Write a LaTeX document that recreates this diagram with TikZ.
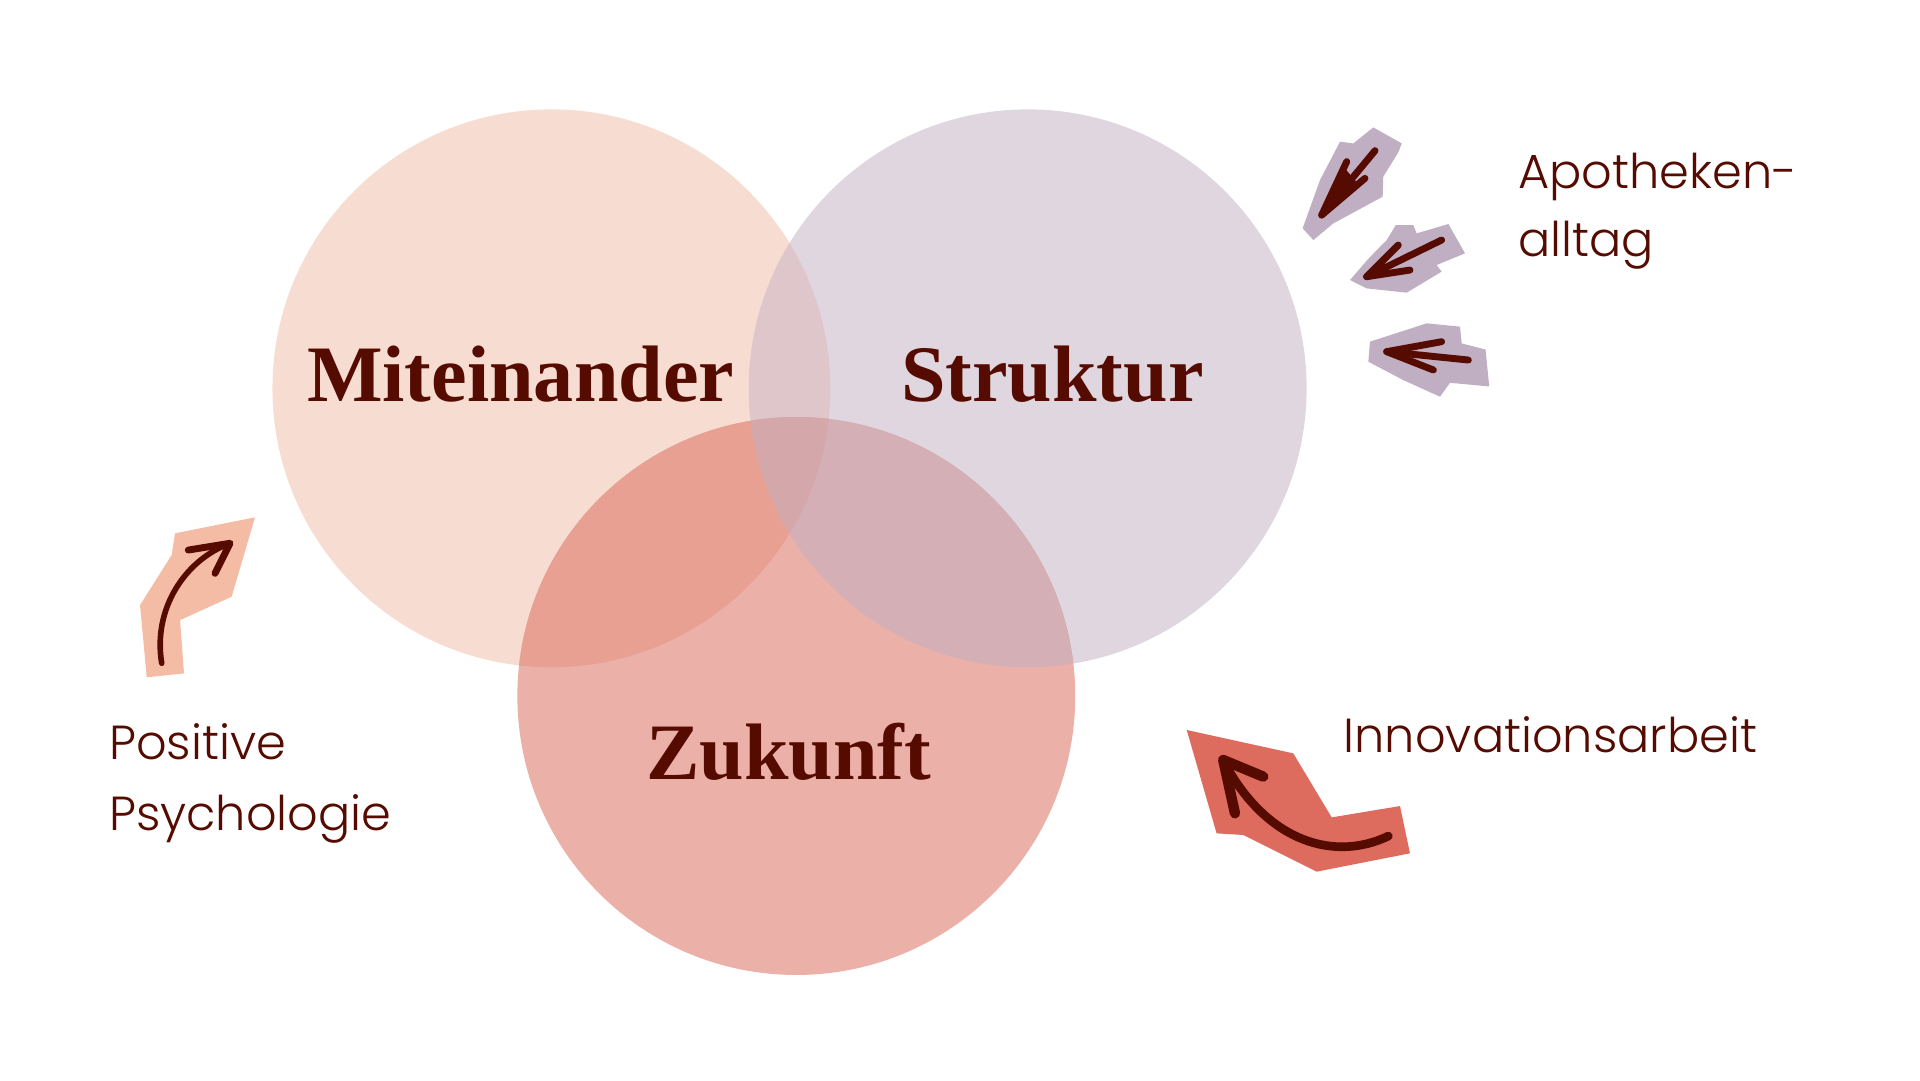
\documentclass[tikz,border=0pt]{standalone}
\usepackage{fontspec}
\setmainfont{Liberation Serif}
\newfontfamily\popfont{Poppins}[UprightFont=* Light]
\definecolor{maroon}{HTML}{560B00}
\definecolor{cM}{HTML}{F7DCD1}
\definecolor{cS}{HTML}{E0D6DF}
\definecolor{cZ}{HTML}{EBB1A9}
\definecolor{cMS}{HTML}{DEC6CA}
\definecolor{cMZ}{HTML}{E8A093}
\definecolor{cSZ}{HTML}{D4AFB5}
\definecolor{cMSZ}{HTML}{D4A7AA}
\definecolor{plav}{HTML}{C0AEC3}
\definecolor{ppeach}{HTML}{F5BCA5}
\definecolor{pred}{HTML}{DD6B5E}
\tikzset{
  title/.style={anchor=base, text=maroon, inner sep=0pt, font=\bfseries\fontsize{18.5}{22}\selectfont},
  label/.style={anchor=base west, text=maroon, inner sep=0pt, font=\popfont\fontsize{11.05}{14}\selectfont},
  brush/.style={draw=maroon, line width=1.6pt, line cap=round, line join=round},
}
\begin{document}
\begin{tikzpicture}[x=0.01cm,y=-0.01cm]
\useasboundingbox[fill=white] (0,0) rectangle (1560,877.5);
% circles
\coordinate (cm) at (448,315.5);
\coordinate (cs) at (835,315.5);
\coordinate (cz) at (647,565.5);
\fill[cM] (cm) circle[radius=2.265cm];
\fill[cS] (cs) circle[radius=2.265cm];
\fill[cZ] (cz) circle[radius=2.265cm];
\begin{scope}
  \clip (cm) circle[radius=2.265cm];
  \fill[cMS] (cs) circle[radius=2.265cm];
  \fill[cMZ] (cz) circle[radius=2.265cm];
\end{scope}
\begin{scope}
  \clip (cs) circle[radius=2.265cm];
  \fill[cSZ] (cz) circle[radius=2.265cm];
  \clip (cm) circle[radius=2.265cm];
  \fill[cMSZ] (cz) circle[radius=2.265cm];
\end{scope}
% titles
\node[title] (mit) at (423,326) {Miteinander};
\node[title] (str) at (855,326) {Struktur};
\node[title] (zuk) at (641,633) {Zukunft};
% labels
\node[label] (apo1) at (1233,153) {Apotheken-};
\node[label] (apo2) at (1233,208) {alltag};
\node[label] (inn) at (1091,611) {Innovationsarbeit};
\node[label] (pos1) at (88,617) {Positive};
\node[label] (pos2) at (88,675) {Psychologie};
% lavender patches
\fill[plav] (1115.8,103.5) -- (1138.9,116.5) -- (1136,124) -- (1123.9,143.5) -- (1123.4,159.8) -- (1083.3,181.5) -- (1067.1,195) -- (1058.4,185.5) -- (1072.5,146.3) -- (1088.8,115.1) -- (1099.6,116.5) -- cycle;
\fill[plav] (1096.9,227.5) -- (1112,210) -- (1126.7,195) -- (1134,183) -- (1148.3,182.8) -- (1151.0,189.6) -- (1176.8,182) -- (1190.3,205.8) -- (1167.3,215.3) -- (1171.3,220.7) -- (1142.9,237.8) -- (1110.4,234.3) -- cycle;
\fill[plav] (1113.1,277.6) -- (1159.2,262.7) -- (1186.3,265.4) -- (1187.6,279) -- (1207,284) -- (1210,314) -- (1178.1,311) -- (1170,322.3) -- (1140.2,308.8) -- (1111.8,293.9) -- cycle;
% lavender arrows
\draw[brush] (1117.2,122.4) -- (1073.9,174.7);
\draw[brush] (1094.2,131.3) -- (1073.9,174.7) -- (1109,144.9);
\fill[maroon] (1073.9,174.7) -- (1092,136) -- (1104,150) -- cycle;
\draw[brush] (1171.3,195) -- (1110.4,224.8);
\draw[brush] (1136.1,199.1) -- (1110.4,224.8) -- (1145.6,219.4);
\draw[brush] (1193,292.5) -- (1126.7,285.7);
\draw[brush] (1171.3,277.6) -- (1126.7,285.7) -- (1164.6,300.6);
% peach patch and arrow
\fill[ppeach] (142.2,433.3) -- (207.2,420.3) -- (188.2,484.8) -- (146.3,503.8) -- (149.5,547.1) -- (119.2,550.3) -- (113.8,491.6) -- (139.5,450.9) -- cycle;
\draw[brush, line width=1.3pt] (131.4,538.9) .. controls (124,495) and (150,455) .. (186.9,441.4);
\draw[brush, line width=1.6pt] (153,446.9) -- (186.9,441.4) -- (174.7,465.8);
% red patch and arrow
\fill[pred] (964.2,593.1) -- (1050.8,612.1) -- (1082.0,664.1) -- (1137.5,654.9) -- (1145.6,693.3) -- (1069.8,708.2) -- (1010.2,678.4) -- (988.5,677.1) -- cycle;
\draw[brush, line width=2pt] (1128.0,679.3) .. controls (1085,700) and (1030,685) .. (995,620);
\draw[brush, line width=2.4pt] (1003.4,660.8) -- (993.9,617.5) -- (1026.4,631.0);
\end{tikzpicture}
\end{document}
